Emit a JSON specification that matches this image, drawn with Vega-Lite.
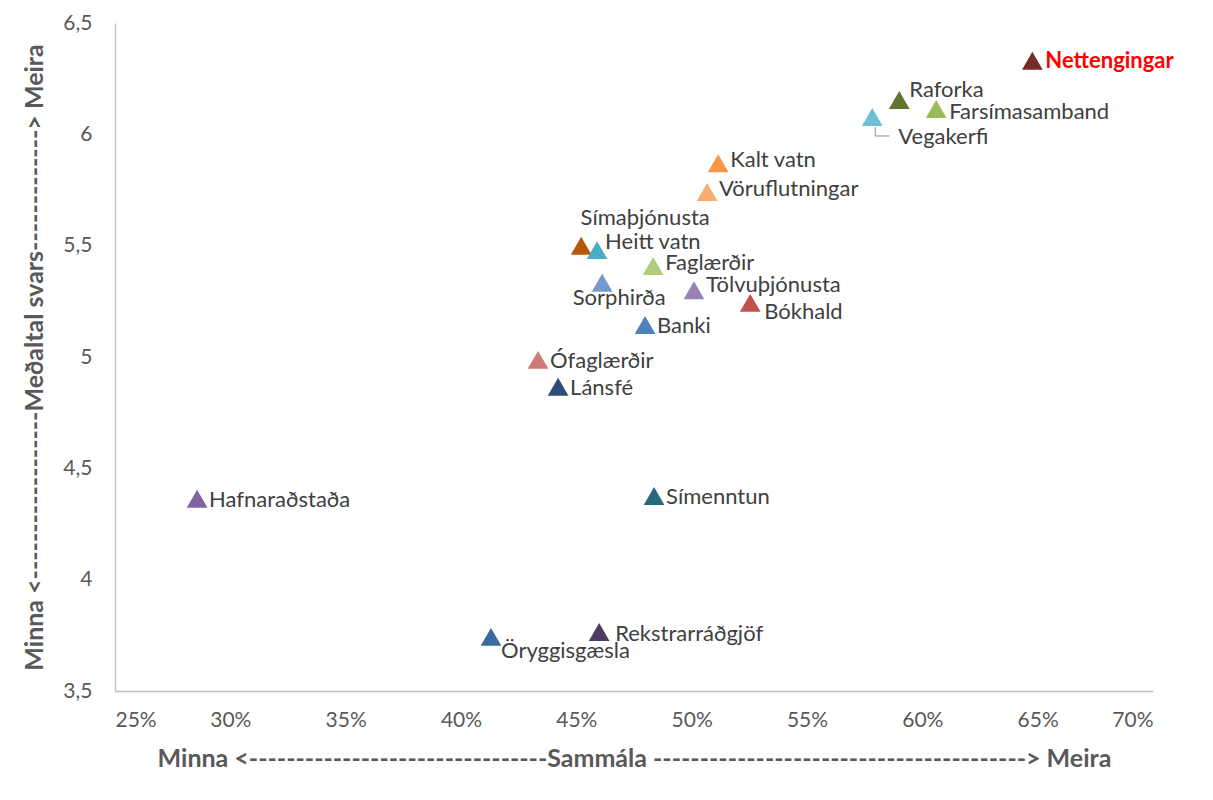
{
  "$schema": "https://vega.github.io/schema/vega-lite/v6.json",
  "width": 1038,
  "height": 668,
  "autosize": {"type": "none"},
  "padding": {"left": 115, "top": 23, "right": 60, "bottom": 109},
  "background": "white",
  "config": {
    "view": {"stroke": null},
    "axis": {
      "domainColor": "#BFBFBF",
      "domainWidth": 1.3,
      "ticks": false,
      "grid": false,
      "labelFont": "Lato",
      "labelFontSize": 21,
      "labelColor": "#595959",
      "titleFont": "Lato",
      "titleFontSize": 25,
      "titleFontWeight": "bold",
      "titleColor": "#595959"
    },
    "text": {"font": "Lato", "fontSize": 22, "color": "#404040", "align": "left", "baseline": "middle"}
  },
  "data": {
    "values": [
      {"name": "Nettengingar", "x": 0.6477, "y": 6.33},
      {"name": "Raforka", "x": 0.590, "y": 6.154},
      {"name": "Farsímasamband", "x": 0.606, "y": 6.114},
      {"name": "Vegakerfi", "x": 0.5783, "y": 6.078},
      {"name": "Kalt vatn", "x": 0.5115, "y": 5.87},
      {"name": "Vöruflutningar", "x": 0.5067, "y": 5.741},
      {"name": "Símaþjónusta", "x": 0.4521, "y": 5.50},
      {"name": "Heitt vatn", "x": 0.459, "y": 5.48},
      {"name": "Faglærðir", "x": 0.4833, "y": 5.409},
      {"name": "Sorphirða", "x": 0.4612, "y": 5.333},
      {"name": "Tölvuþjónusta", "x": 0.501, "y": 5.30},
      {"name": "Bókhald", "x": 0.5254, "y": 5.243},
      {"name": "Banki", "x": 0.4798, "y": 5.144},
      {"name": "Ófaglærðir", "x": 0.4334, "y": 4.987},
      {"name": "Lánsfé", "x": 0.4421, "y": 4.866},
      {"name": "Hafnaraðstaða", "x": 0.2856, "y": 4.363},
      {"name": "Símenntun", "x": 0.4837, "y": 4.376},
      {"name": "Öryggisgæsla", "x": 0.413, "y": 3.743},
      {"name": "Rekstrarráðgjöf", "x": 0.4599, "y": 3.765}
    ]
  },
  "encoding": {
    "x": {
      "field": "x", "type": "quantitative",
      "scale": {"domain": [0.25, 0.70], "nice": false, "zero": false},
      "axis": {
        "values": [0.25, 0.30, 0.35, 0.40, 0.45, 0.50, 0.55, 0.60, 0.65, 0.70],
        "format": ".0%",
        "labelPadding": 18,
        "titlePadding": 16,
        "title": "Minna <--------------------------------Sammála ----------------------------------------> Meira"
      }
    },
    "y": {
      "field": "y", "type": "quantitative",
      "scale": {"domain": [3.5, 6.5], "nice": false, "zero": false},
      "axis": {
        "values": [3.5, 4, 4.5, 5, 5.5, 6, 6.5],
        "labelExpr": "replace(format(datum.value, '.1~f'), '.', ',')",
        "labelPadding": 23,
        "titlePadding": 15,
        "title": "Minna <------------------Meðaltal svars-------------> Meira"
      }
    }
  },
  "layer": [
    {
      "mark": {"type": "rule", "color": "#A6A6A6", "strokeWidth": 1.3, "xOffset": 3, "yOffset": 10, "y2Offset": 19},
      "transform": [{"filter": {"field": "name", "equal": "Vegakerfi"}}],
      "encoding": {"y2": {"field": "y"}}
    },
    {
      "mark": {"type": "rule", "color": "#A6A6A6", "strokeWidth": 1.3, "xOffset": 3, "x2Offset": 17, "yOffset": 19},
      "transform": [{"filter": {"field": "name", "equal": "Vegakerfi"}}],
      "encoding": {"x2": {"field": "x"}}
    },
    {
      "mark": {"type": "point", "shape": "triangle-up", "size": 430, "filled": true, "opacity": 1},
      "encoding": {
        "color": {
          "field": "name", "type": "nominal", "legend": null,
          "scale": {
            "domain": ["Nettengingar", "Raforka", "Farsímasamband", "Vegakerfi", "Kalt vatn", "Vöruflutningar", "Símaþjónusta", "Heitt vatn", "Faglærðir", "Sorphirða", "Tölvuþjónusta", "Bókhald", "Banki", "Ófaglærðir", "Lánsfé", "Hafnaraðstaða", "Símenntun", "Öryggisgæsla", "Rekstrarráðgjöf"],
            "range": ["#772C2A", "#5F7530", "#9BBB59", "#6FC0D4", "#F79646", "#FAAB6E", "#B65708", "#4BACC6", "#AFCB7B", "#729ACA", "#9983B6", "#C0504D", "#4F81BD", "#D07A78", "#2C4D75", "#8064A2", "#276A7C", "#3A6A9E", "#4D3B62"]
          }
        }
      }
    },
    {
      "mark": {"type": "text", "dx": 12, "dy": 1},
      "transform": [{"filter": {"not": {"field": "name", "oneOf": ["Nettengingar", "Raforka", "Farsímasamband", "Heitt vatn", "Vegakerfi", "Símaþjónusta", "Sorphirða", "Bókhald", "Öryggisgæsla", "Rekstrarráðgjöf", "Vöruflutningar", "Faglærðir", "Tölvuþjónusta", "Kalt vatn"]}}}],
      "encoding": {"text": {"field": "name"}}
    },
    {
      "mark": {"type": "text", "dx": 12, "dy": -3},
      "transform": [{"filter": {"field": "name", "oneOf": ["Vöruflutningar", "Faglærðir", "Kalt vatn"]}}],
      "encoding": {"text": {"field": "name"}}
    },
    {
      "mark": {"type": "text", "dx": 12, "dy": -5},
      "transform": [{"filter": {"field": "name", "equal": "Tölvuþjónusta"}}],
      "encoding": {"text": {"field": "name"}}
    },
    {
      "mark": {"type": "text", "dx": 13, "dy": 3},
      "transform": [{"filter": {"field": "name", "equal": "Farsímasamband"}}],
      "encoding": {"text": {"field": "name"}}
    },
    {
      "mark": {"type": "text", "dx": 13, "dy": 0, "fontWeight": "bold", "color": "#FF0000"},
      "transform": [{"filter": {"field": "name", "equal": "Nettengingar"}}],
      "encoding": {"text": {"field": "name"}}
    },
    {
      "mark": {"type": "text", "dx": 10, "dy": -10},
      "transform": [{"filter": {"field": "name", "equal": "Raforka"}}],
      "encoding": {"text": {"field": "name"}}
    },
    {
      "mark": {"type": "text", "dx": 8, "dy": -8},
      "transform": [{"filter": {"field": "name", "equal": "Heitt vatn"}}],
      "encoding": {"text": {"field": "name"}}
    },
    {
      "mark": {"type": "text", "dx": 26, "dy": 20},
      "transform": [{"filter": {"field": "name", "equal": "Vegakerfi"}}],
      "encoding": {"text": {"field": "name"}}
    },
    {
      "mark": {"type": "text", "align": "center", "dx": 64, "dy": -28},
      "transform": [{"filter": {"field": "name", "equal": "Símaþjónusta"}}],
      "encoding": {"text": {"field": "name"}}
    },
    {
      "mark": {"type": "text", "align": "center", "dx": 17, "dy": 15},
      "transform": [{"filter": {"field": "name", "equal": "Sorphirða"}}],
      "encoding": {"text": {"field": "name"}}
    },
    {
      "mark": {"type": "text", "dx": 14, "dy": 9},
      "transform": [{"filter": {"field": "name", "equal": "Bókhald"}}],
      "encoding": {"text": {"field": "name"}}
    },
    {
      "mark": {"type": "text", "dx": 10, "dy": 14},
      "transform": [{"filter": {"field": "name", "equal": "Öryggisgæsla"}}],
      "encoding": {"text": {"field": "name"}}
    },
    {
      "mark": {"type": "text", "dx": 16, "dy": 2},
      "transform": [{"filter": {"field": "name", "equal": "Rekstrarráðgjöf"}}],
      "encoding": {"text": {"field": "name"}}
    }
  ]
}
